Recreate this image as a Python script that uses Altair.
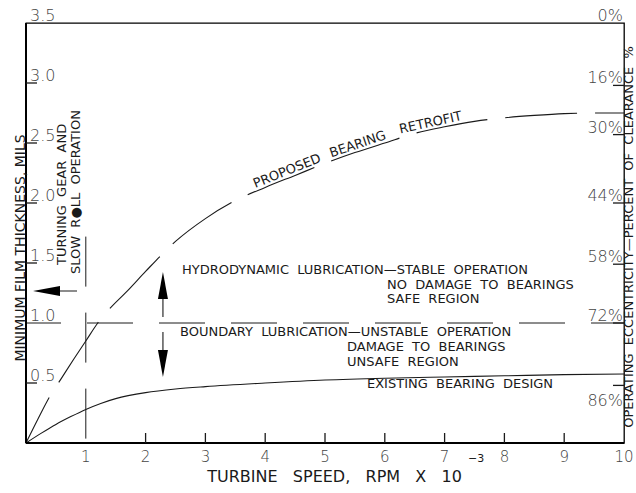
import altair as alt
import numpy as np
import pandas as pd

# ---- data -------------------------------------------------------------
# turbine speed (rpm x 10^-3) vs minimum film thickness (mils)
speed_existing = [0, 0.25, 0.5, 0.75, 1.0, 1.25, 1.5, 2.0, 2.5, 3.0, 4.0, 5.0, 6.0, 7.0, 8.0, 9.0, 10.0]
film_existing = [0, 0.08, 0.155, 0.22, 0.28, 0.33, 0.37, 0.42, 0.45, 0.47, 0.50, 0.525, 0.54, 0.55, 0.56, 0.57, 0.575]

speed_proposed = [0, 0.2, 0.4, 0.6, 0.8, 1.0, 1.2, 1.4, 1.7, 2.0, 2.5, 3.0, 3.5, 4.0, 4.5,
                  5.0, 5.5, 6.0, 6.5, 7.0, 7.5, 8.0, 8.5, 9.0, 9.5, 10.0]
film_proposed = [0, 0.20, 0.39, 0.545, 0.70, 0.85, 1.0, 1.12, 1.27, 1.43, 1.68, 1.87, 2.02, 2.13, 2.23,
                 2.33, 2.42, 2.50, 2.58, 2.635, 2.68, 2.71, 2.73, 2.745, 2.75, 2.75]

speed_ticks = [1, 2, 3, 4, 5, 6, 7, 8, 9, 10]
film_ticks = [0.5, 1.0, 1.5, 2.0, 2.5, 3.0, 3.5]
film_tick_labels = ["0.5", "1.0", "1.5", "2.0", "2.5", "3.0", "3.5"]

# eccentricity scale (right side) and the film thickness each label sits at
ecc_labels = ["0%", "16%", "30%", "44%", "58%", "72%", "86%"]
ecc_at_film = [3.5, 2.98, 2.57, 2.0, 1.49, 1.0, 0.48]

boundary_film = 1.0        # boundary / hydrodynamic lubrication limit
slow_roll_speed = 1.0      # turning gear and slow roll operation

# ---- layout -----------------------------------------------------------
W, H = 598, 420
XMAX, YMAX = 10, 3.5
PX_X = W / XMAX            # pixels per unit of speed
PX_Y = H / YMAX            # pixels per mil
FONT = "DejaVu Sans"
INK = "#1a1a1a"

XS = alt.Scale(domain=[0, XMAX], nice=False, zero=False)
YS = alt.Scale(domain=[0, YMAX], nice=False, zero=False)


def xy(chart, x="x", y="y", **kw):
    return chart.encode(
        x=alt.X(f"{x}:Q", scale=XS, axis=None),
        y=alt.Y(f"{y}:Q", scale=YS, axis=None),
        **kw,
    )


def spaced(s, n=2):
    return s.replace(" ", " " + "\u00a0" * (n - 1))


layers = []

# curves
existing = pd.DataFrame({"x": speed_existing, "y": film_existing})
proposed = pd.DataFrame({"x": speed_proposed, "y": film_proposed})
layers.append(xy(alt.Chart(existing).mark_line(color=INK, strokeWidth=1.1, interpolate="monotone")))
layers.append(xy(alt.Chart(proposed).mark_line(color=INK, strokeWidth=1.1, interpolate="monotone",
                                               strokeDash=[72, 18], strokeDashOffset=21)))

# boundary lubrication limit and slow-roll speed
layers.append(xy(alt.Chart(pd.DataFrame({"x": [0], "x2": [XMAX], "y": [boundary_film]}))
                 .mark_rule(color=INK, strokeWidth=1, strokeDash=[46, 26], strokeDashOffset=11),
                 x2="x2:Q"))
layers.append(xy(alt.Chart(pd.DataFrame({"x": [slow_roll_speed], "y": [1.72], "y2": [0]}))
                 .mark_rule(color=INK, strokeWidth=1, strokeDash=[50, 26]),
                 y2="y2:Q"))

# heavy axis lines (left and bottom)
axes = pd.DataFrame({"x": [0, 0], "x2": [0, XMAX], "y": [0, 0], "y2": [YMAX, 0]})
layers.append(xy(alt.Chart(axes).mark_rule(color="black", strokeWidth=2), x2="x2:Q", y2="y2:Q"))

# inward tick marks
tick_x = pd.DataFrame({"x": [t for t in speed_ticks if 1 < t < XMAX]})
tick_x["y"] = 0
tick_x["y2"] = 10 / PX_Y
layers.append(xy(alt.Chart(tick_x).mark_rule(color=INK, strokeWidth=1.3), y2="y2:Q"))

tick_y = pd.DataFrame({"y": [t for t in film_ticks if t not in (boundary_film, YMAX)]})
tick_y["x"] = 0
tick_y["x2"] = 11 / PX_X
layers.append(xy(alt.Chart(tick_y).mark_rule(color=INK, strokeWidth=1.3), x2="x2:Q"))

tick_r = pd.DataFrame({"y": ecc_at_film[1:]})
tick_r["x"] = XMAX
tick_r["x2"] = XMAX - 11 / PX_X
layers.append(xy(alt.Chart(tick_r).mark_rule(color=INK, strokeWidth=1.3), x2="x2:Q"))

# tick labels
num_style = dict(font=FONT, fontSize=16, fontWeight=300, color="#444")
lab_x = pd.DataFrame({"x": speed_ticks, "y": 0, "t": [str(t) for t in speed_ticks]})
layers.append(xy(alt.Chart(lab_x).mark_text(baseline="top", dy=7, **dict(num_style, fontSize=15)),
                 text="t:N"))

lab_y = pd.DataFrame({"x": 0, "y": film_ticks, "t": film_tick_labels})
layers.append(xy(alt.Chart(lab_y).mark_text(align="left", baseline="alphabetic", dx=4, dy=-2, **num_style),
                 text="t:N"))

lab_r = pd.DataFrame({"x": XMAX, "y": ecc_at_film, "t": ecc_labels})
layers.append(xy(alt.Chart(lab_r.iloc[:-1]).mark_text(align="right", baseline="alphabetic", dx=-1, dy=-2,
                                                     **num_style), text="t:N"))
layers.append(xy(alt.Chart(lab_r.iloc[-1:]).mark_text(align="right", baseline="top", dx=-1, dy=8,
                                                     **num_style), text="t:N"))

# arrows: shafts and heads
shafts = pd.DataFrame({
    "x": [0.30, 2.29, 2.29],
    "x2": [0.853, 2.29, 2.29],
    "y": [1.267, 1.26, 0.925],
    "y2": [1.267, 1.05, 0.70],
})
layers.append(xy(alt.Chart(shafts).mark_rule(color=INK, strokeWidth=1.1), x2="x2:Q", y2="y2:Q"))

HEAD = 729
heads = [
    ("M0,0L2,-0.37L2,0.37Z", 0.117, 1.267),   # left
    ("M0,0L0.37,2L-0.37,2Z", 2.29, 1.425),    # up
    ("M0,0L0.37,-2L-0.37,-2Z", 2.29, 0.55),   # down
]
for path, hx, hy in heads:
    layers.append(xy(alt.Chart(pd.DataFrame({"x": [hx], "y": [hy]}))
                     .mark_point(shape=path, size=HEAD, filled=True, color="black", opacity=1, strokeWidth=0)))

# annotations
note_style = dict(font=FONT, fontSize=13, color=INK, align="left", baseline="middle")
notes = pd.DataFrame([
    (spaced("HYDRODYNAMIC LUBRICATION—STABLE OPERATION"), 2.609, 1.438),
    (spaced("NO DAMAGE TO BEARINGS"), 6.037, 1.317),
    (spaced("SAFE REGION"), 6.037, 1.196),
    (spaced("BOUNDARY LUBRICATION—UNSTABLE OPERATION"), 2.575, 0.921),
    (spaced("DAMAGE TO BEARINGS"), 5.368, 0.796),
    (spaced("UNSAFE REGION"), 5.368, 0.671),
    (spaced("EXISTING BEARING DESIGN"), 5.702, 0.488),
], columns=["t", "x", "y"])
layers.append(xy(alt.Chart(notes).mark_text(**note_style), text="t:N"))

vnotes = pd.DataFrame([
    (spaced("TURNING GEAR AND"), 0.602, 1.483),
    (spaced("SLOW R●LL OPERATION"), 0.836, 1.408),
], columns=["t", "x", "y"])
layers.append(xy(alt.Chart(vnotes).mark_text(angle=270, **note_style), text="t:N"))

# curve label, one word at a time, following the proposed curve
for word, wx in [("PROPOSED", 4.41), ("BEARING", 5.585), ("RETROFIT", 6.79)]:
    wy = float(np.interp(wx, speed_proposed, film_proposed))
    slope = (np.interp(wx + 0.3, speed_proposed, film_proposed)
             - np.interp(wx - 0.3, speed_proposed, film_proposed)) / 0.6
    ang = 360 - float(np.degrees(np.arctan(slope * PX_Y / PX_X)))
    layers.append(xy(alt.Chart(pd.DataFrame({"x": [wx], "y": [wy], "t": [word]}))
                     .mark_text(font=FONT, fontSize=13, color=INK, align="center", baseline="alphabetic",
                                angle=ang, dy=-3), text="t:N"))

# axis titles
title_style = dict(font=FONT, color=INK)
layers.append(xy(alt.Chart(pd.DataFrame({"x": [3.03], "y": [-0.283],
                                         "t": [spaced("TURBINE SPEED, RPM X 10", 3)]}))
                 .mark_text(align="left", baseline="middle", fontSize=16, **title_style), text="t:N"))
layers.append(xy(alt.Chart(pd.DataFrame({"x": [7.39], "y": [-0.13], "t": ["−3"]}))
                 .mark_text(align="left", baseline="middle", fontSize=11, **title_style), text="t:N"))
layers.append(xy(alt.Chart(pd.DataFrame({"x": [-0.084], "y": [1.625], "t": ["MINIMUM FILM THICKNESS, MILS"]}))
                 .mark_text(angle=270, align="center", baseline="middle", fontSize=14, **title_style),
                 text="t:N"))
layers.append(xy(alt.Chart(pd.DataFrame({"x": [10.084], "y": [1.717],
                                         "t": [spaced("OPERATING ECCENTRICITY—PERCENT OF CLEARANCE %")]}))
                 .mark_text(angle=270, align="center", baseline="middle", fontSize=13, **title_style),
                 text="t:N"))

chart = (
    alt.layer(*layers)
    .properties(width=W, height=H,
                autosize=alt.AutoSizeParams(type="none"),
                padding={"left": 26, "top": 23, "right": 12, "bottom": 50},
                background="white")
    .configure_view(stroke="black", strokeWidth=1.3)
)

chart.save("out.html", embed_options={"renderer": "svg", "actions": False})
